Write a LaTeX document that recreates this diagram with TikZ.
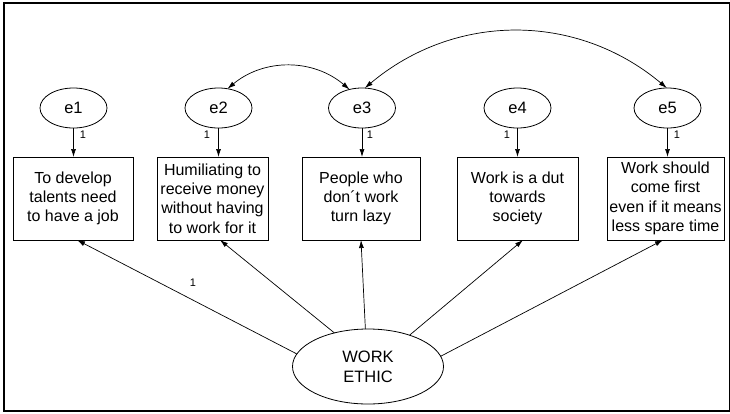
\documentclass[tikz,border=0pt]{standalone}
\usepackage{fontspec}
\setmainfont{Liberation Sans}
\usetikzlibrary{arrows.meta,shapes.geometric}
\begin{document}
\begin{tikzpicture}[x=1pt,y=-1pt,
  every node/.style={inner sep=0pt,outer sep=0pt},
  obs/.style={draw,line width=0.8pt,minimum height=83pt,align=center,
    font=\fontsize{16}{19.3}\selectfont},
  err/.style={draw,ellipse,line width=0.8pt,minimum width=67pt,minimum height=40pt,
    font=\fontsize{16.5}{19}\selectfont},
  lat/.style={draw,ellipse,line width=0.8pt,minimum width=151pt,minimum height=75pt,
    align=center,font=\fontsize{16.5}{20}\selectfont},
  reg/.style={line width=0.7pt,-{Latex[length=8pt,width=5pt]}},
  cov/.style={line width=0.7pt,{Latex[length=8pt,width=5pt]}-{Latex[length=8pt,width=5pt]}},
  one/.style={font=\fontsize{11}{12}\selectfont}
]
\useasboundingbox (0,0) rectangle (730,413);
% outer frame
\draw[line width=2pt] (4,3) rectangle (730,411);

% observed indicators
\node[obs,minimum width=120pt] (b1) at (73,198.5) {To develop\\talents need\\to have a job};
\node[obs,minimum width=111pt] (b2) at (212.5,198.5) {Humiliating to\\receive money\\without having\\to work for it};
\node[obs,minimum width=118pt] (b3) at (361,198.5) {People who\\don´t work\\turn lazy};
\node[obs,minimum width=121pt] (b4) at (517.5,198.5) {Work is a dut\\towards\\society};
\node[obs,minimum width=117pt] (b5) at (665.5,198.5) {Work should\\come first\\even if it means\\less spare time};

% error terms
\node[err] (e1) at (73.5,108) {e1};
\node[err] (e2) at (218.5,108) {e2};
\node[err] (e3) at (362,108) {e3};
\node[err] (e4) at (517.5,108) {e4};
\node[err] (e5) at (667.5,108) {e5};

% latent factor
\node[lat] (we) at (368,366.5) {WORK\\ETHIC};

% error paths
\draw[reg] (e1.south) -- (e1.south |- b1.north);
\draw[reg] (e2.south) -- (e2.south |- b2.north);
\draw[reg] (e3.south) -- (e3.south |- b3.north);
\draw[reg] (e4.south) -- (e4.south |- b4.north);
\draw[reg] (e5.south) -- (e5.south |- b5.north);
\node[one] (o1) at (83,135) {1};
\node[one] (o2) at (207,135) {1};
\node[one] (o3) at (370,135) {1};
\node[one] (o4) at (507,135) {1};
\node[one] (o5) at (677,135) {1};

% factor loadings
\draw[reg] (we.170) -- ([xshift=4pt]b1.south);
\draw[reg] (we.135) -- ([xshift=7.5pt]b2.south);
\draw[reg] (we.94) -- (b3.south);
\draw[reg] (we.37) -- ([xshift=5.5pt]b4.south);
\draw[reg] (we.8) -- ([xshift=-2.5pt]b5.south);
\node[one] (o6) at (193,283) {1};

% error covariances
\draw[cov] (e2.65) to[bend left=40] (e3.124);
\draw[cov] (e3.82) to[bend left=40] (e5.92);
\end{tikzpicture}
\end{document}
